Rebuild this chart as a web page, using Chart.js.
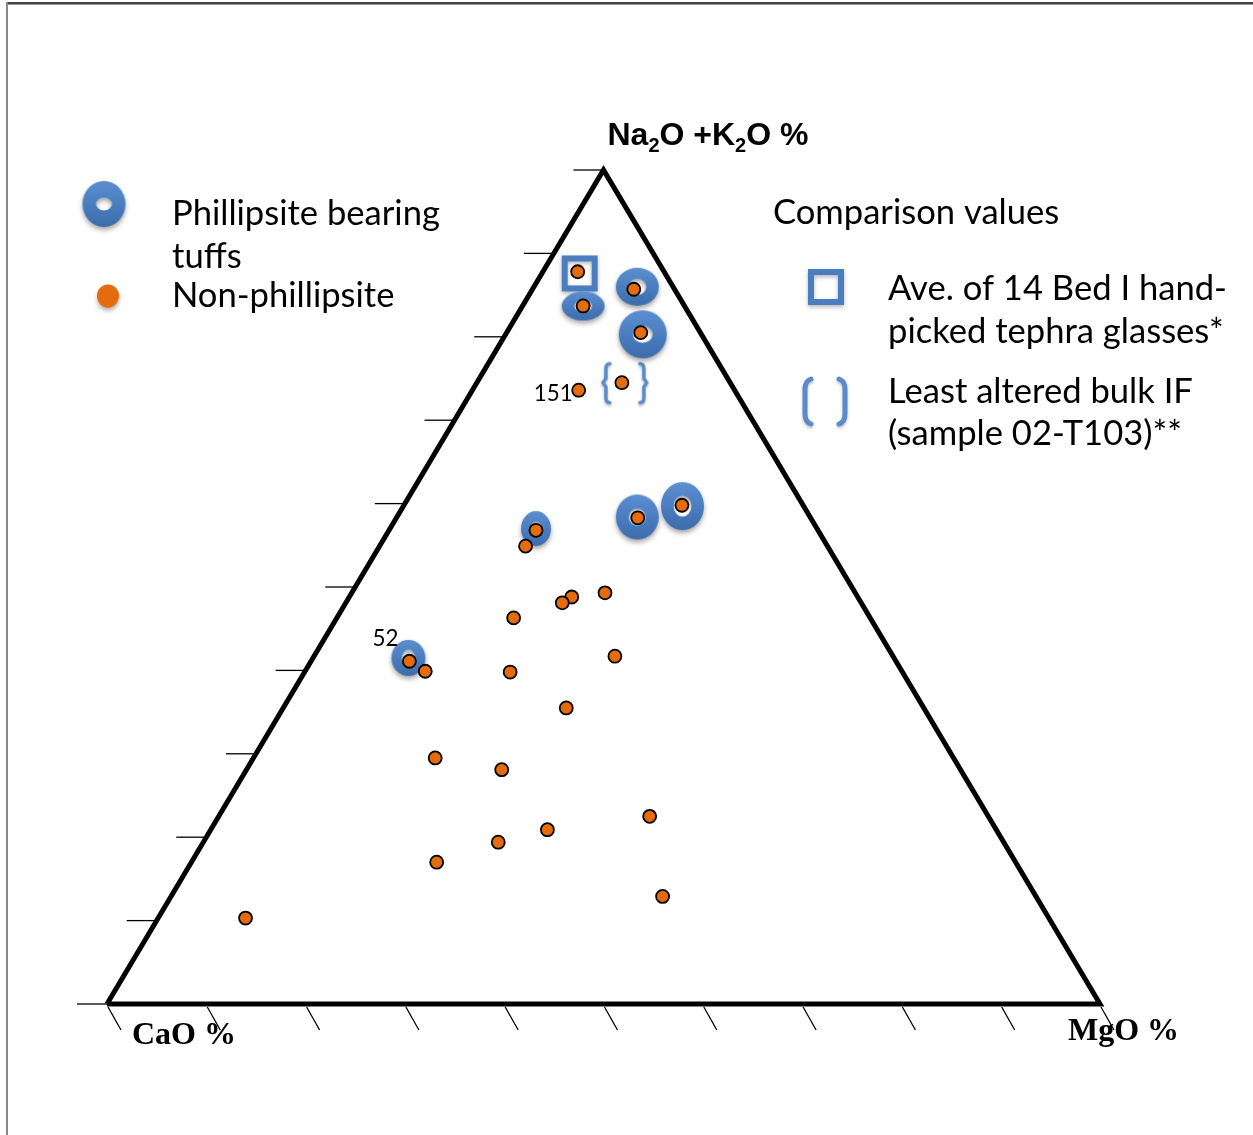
<!DOCTYPE html>
<html>
<head>
<meta charset="utf-8">
<script src="https://cdn.jsdelivr.net/npm/chart.js@4.4.0/dist/chart.umd.min.js"></script>
<style>
  html, body { margin: 0; padding: 0; background: #fff; }
  canvas { display: block; }
</style>
</head>
<body>
<canvas id="ternary" width="1253" height="1135"></canvas>
<script>
// values, in % (CaO is what is left: 100 - NaK - MgO)
const nonPhilNaK = [87.8, 85.7, 83.7, 80.5, 73.6, 74.5, 56.8, 54.9, 58.3, 59.8, 48.8, 48.1, 49.3, 46.3,
  41.1, 39.9, 39.8, 41.7, 35.5, 29.5, 28.1, 22.5, 20.9, 19.4, 17.0, 12.9, 10.3];
const nonPhilMgO = [3.5, 10.2, 6.1, 13.5, 10.7, 14.6, 14.8, 14.7, 24.3, 28.0, 22.4, 21.8, 25.5, 17.8,
  9.9, 12.1, 20.7, 30.3, 28.5, 18.3, 25.7, 43.4, 33.9, 29.7, 24.7, 49.5, 8.8];
const philNaK = [86.0, 83.7, 80.3, 57.0, 58.4, 59.7, 41.5];
const philMgO = [10.4, 6.1, 13.8, 14.7, 24.2, 28.1, 9.6];
const glassNaK = [87.6];
const glassMgO = [3.8];
const bulkNaK = [74.5];
const bulkMgO = [14.8];
const tickValues = [0, 10, 20, 30, 40, 50, 60, 70, 80, 90, 100];
const labelIndex = [4, 14];
const labelText = ["151", "52"];

// ring sizes (outer w, h, hole w, h) - picture styling only
const ringShapes = [[43, 38, 18, 16], [43, 29, 18, 12], [48, 48, 20, 17], [30, 35, 12, 14],
  [43, 45, 17, 17], [43, 48, 18, 21], [34, 36, 13, 17]];
const labelOffsets = [[-6, 11], [-11, -15]];

function toXY(naK, mgO) {
  return { x: mgO + naK / 2, y: naK };
}

const nonPhil = nonPhilNaK.map((v, i) => toXY(v, nonPhilMgO[i]));
const phil = philNaK.map((v, i) => toXY(v, philMgO[i]));
const glass = glassNaK.map((v, i) => toXY(v, glassMgO[i]));
const bulk = bulkNaK.map((v, i) => toXY(v, bulkMgO[i]));
const frame = [toXY(0, 0), toXY(0, 100), toXY(100, 0), toXY(0, 0)];

function ringImage(w, h, hw, hh) {
  const pad = 12;
  const c = document.createElement("canvas");
  c.width = w + pad * 2;
  c.height = h + pad * 2;
  const g = c.getContext("2d");
  const cx = c.width / 2, cy = c.height / 2;
  g.save();
  g.shadowColor = "rgba(0,0,0,0.35)";
  g.shadowBlur = 5;
  g.shadowOffsetY = 3;
  const grad = g.createLinearGradient(0, cy - h / 2, 0, cy + h / 2);
  grad.addColorStop(0, "#5B8FD2");
  grad.addColorStop(0.5, "#4A7EC1");
  grad.addColorStop(1, "#3D6CAA");
  g.fillStyle = grad;
  g.beginPath();
  g.ellipse(cx, cy, w / 2, h / 2, 0, 0, Math.PI * 2);
  g.ellipse(cx, cy, hw / 2, hh / 2, 0, 0, Math.PI * 2);
  g.fill("evenodd");
  g.restore();
  return c;
}

function squareImage(s, lw) {
  const pad = 10;
  const c = document.createElement("canvas");
  c.width = s + pad * 2;
  c.height = s + pad * 2;
  const g = c.getContext("2d");
  g.shadowColor = "rgba(0,0,0,0.3)";
  g.shadowBlur = 4;
  g.shadowOffsetY = 2;
  g.strokeStyle = "#4A7EC1";
  g.lineWidth = lw;
  g.strokeRect(pad + lw / 2, pad + lw / 2, s - lw, s - lw);
  return c;
}

function braceImage() {
  const c = document.createElement("canvas");
  c.width = 64;
  c.height = 60;
  const g = c.getContext("2d");
  const cx = 32, cy = 30, top = cy - 19, bot = cy + 20, mid = cy;
  g.shadowColor = "rgba(0,0,0,0.25)";
  g.shadowBlur = 3;
  g.shadowOffsetY = 2;
  g.strokeStyle = "#5A8BCB";
  g.lineWidth = 3.5;
  g.lineCap = "round";
  g.lineJoin = "round";
  let lx = cx - 18;
  g.beginPath();
  g.moveTo(lx + 4, top);
  g.quadraticCurveTo(lx, top, lx, top + 5);
  g.lineTo(lx, mid - 4);
  g.lineTo(lx - 3, mid);
  g.lineTo(lx, mid + 4);
  g.lineTo(lx, bot - 5);
  g.quadraticCurveTo(lx, bot, lx + 4, bot);
  g.stroke();
  let rx = cx + 20;
  g.beginPath();
  g.moveTo(rx - 4, top);
  g.quadraticCurveTo(rx, top, rx, top + 5);
  g.lineTo(rx, mid - 4);
  g.lineTo(rx + 3, mid);
  g.lineTo(rx, mid + 4);
  g.lineTo(rx, bot - 5);
  g.quadraticCurveTo(rx, bot, rx - 4, bot);
  g.stroke();
  return c;
}

function bracketPair(g, x, top, bot, gap) {
  g.save();
  g.shadowColor = "rgba(0,0,0,0.25)";
  g.shadowBlur = 3;
  g.shadowOffsetY = 2;
  g.strokeStyle = "#5A8BCB";
  g.lineWidth = 5;
  g.lineCap = "round";
  g.beginPath();
  g.moveTo(x + 6, top);
  g.quadraticCurveTo(x, top + 2, x, top + 10);
  g.lineTo(x, bot - 10);
  g.quadraticCurveTo(x, bot - 2, x + 6, bot);
  g.stroke();
  const r = x + gap;
  g.beginPath();
  g.moveTo(r - 6, top);
  g.quadraticCurveTo(r, top + 2, r, top + 10);
  g.lineTo(r, bot - 10);
  g.quadraticCurveTo(r, bot - 2, r - 6, bot);
  g.stroke();
  g.restore();
}

const ringImgs = ringShapes.map((s) => ringImage(s[0], s[1], s[2], s[3]));
const legendRing = ringImage(43, 46, 16, 13);
const squareImg = squareImage(36, 6);
const legendSquare = squareImage(36, 6);
const braceImg = braceImage();

const decorations = {
  id: "decorations",
  beforeDatasetsDraw(chart) {
    const g = chart.ctx;
    const xs = chart.scales.x, ys = chart.scales.y;
    g.save();
    // page frame
    g.fillStyle = "#444";
    g.fillRect(7, 2, 1246, 2);
    g.fillStyle = "#999";
    g.fillRect(7, 4, 1246, 1);
    g.fillStyle = "#888";
    g.fillRect(6, 2, 2, 1133);
    // ticks
    g.strokeStyle = "#000";
    g.lineWidth = 1.3;
    tickValues.forEach((t) => {
      const p = toXY(t, 0);
      const px = xs.getPixelForValue(p.x), py = ys.getPixelForValue(p.y);
      g.beginPath();
      g.moveTo(px - 30, py);
      g.lineTo(px, py);
      g.stroke();
      const b = toXY(0, t);
      const bx = xs.getPixelForValue(b.x), by = ys.getPixelForValue(b.y);
      g.beginPath();
      g.moveTo(bx + 1, by + 3);
      g.lineTo(bx + 14, by + 26);
      g.stroke();
    });
    g.restore();
  },
  afterDatasetsDraw(chart) {
    const g = chart.ctx;
    const xs = chart.scales.x, ys = chart.scales.y;
    g.save();
    g.fillStyle = "#000";
    g.textBaseline = "alphabetic";

    // Calibri-like text: fit Lato to the picture widths
    g.font = "37px Lato";
    const k = 268 / g.measureText("Phillipsite bearing").width;
    const big = (37 * k).toFixed(1) + "px Lato";
    const small = (24 * k).toFixed(1) + "px Lato";

    // point labels
    g.font = small;
    g.textAlign = "right";
    labelIndex.forEach((idx, i) => {
      const p = nonPhil[idx];
      g.fillText(labelText[i], xs.getPixelForValue(p.x) + labelOffsets[i][0],
        ys.getPixelForValue(p.y) + labelOffsets[i][1]);
    });
    g.textAlign = "left";

    // apex title
    const top = toXY(100, 0);
    let tx = xs.getPixelForValue(top.x) + 4;
    const ty = ys.getPixelForValue(top.y) - 25;
    const parts = [["Na", 0], ["2", 1], ["O +K", 0], ["2", 1], ["O %", 0]];
    parts.forEach(([s, sub]) => {
      g.font = sub ? "bold 20px 'Liberation Sans'" : "bold 32px 'Liberation Sans'";
      g.fillText(s, tx, ty + (sub ? 7 : 0));
      tx += g.measureText(s).width;
    });

    // base corner titles
    g.font = "bold 32px 'Liberation Serif'";
    const left = toXY(0, 0), right = toXY(0, 100);
    g.fillText("CaO %", xs.getPixelForValue(left.x) + 25, ys.getPixelForValue(left.y) + 40);
    g.fillText("MgO %", xs.getPixelForValue(right.x) - 32, ys.getPixelForValue(right.y) + 36);

    // legend, left
    g.drawImage(legendRing, 104 - legendRing.width / 2, 204 - legendRing.height / 2);
    g.save();
    g.shadowColor = "rgba(0,0,0,0.3)";
    g.shadowBlur = 4;
    g.shadowOffsetY = 3;
    g.fillStyle = "#E46C0A";
    g.beginPath();
    g.ellipse(108, 296, 11, 11.5, 0, 0, Math.PI * 2);
    g.fill();
    g.restore();
    g.font = big;
    g.fillText("Phillipsite bearing", 172, 225);
    g.fillText("tuffs", 172, 268);
    g.fillText("Non-phillipsite", 172, 307);

    // legend, right
    g.fillText("Comparison values", 773, 224);
    g.drawImage(legendSquare, 826 - legendSquare.width / 2, 287 - legendSquare.height / 2);
    g.fillText("Ave. of 14 Bed I hand-", 888, 300);
    g.fillText("picked tephra glasses*", 888, 343);
    bracketPair(g, 805, 379, 424, 40);
    g.fillText("Least altered bulk IF", 888, 403);
    g.fillText("(sample 02-T103)**", 888, 445);
    g.restore();
  }
};

new Chart(document.getElementById("ternary"), {
  type: "scatter",
  data: {
    datasets: [
      {
        label: "Non-phillipsite",
        data: nonPhil,
        pointRadius: 6.5,
        borderWidth: 1.8,
        borderColor: "#000",
        backgroundColor: "#E46C0A",
        clip: false,
        order: 0
      },
      {
        label: "Phillipsite bearing tuffs",
        data: phil,
        pointStyle: (ctx) => ringImgs[ctx.dataIndex],
        clip: false,
        order: 1
      },
      {
        label: "Ave. of 14 Bed I hand-picked tephra glasses*",
        data: glass,
        pointStyle: squareImg,
        clip: false,
        order: 2
      },
      {
        label: "Least altered bulk IF (sample 02-T103)**",
        data: bulk,
        pointStyle: braceImg,
        clip: false,
        order: 3
      },
      {
        label: "frame",
        data: frame,
        showLine: true,
        borderColor: "#000",
        borderWidth: 5,
        borderJoinStyle: "miter",
        pointRadius: 0,
        clip: false,
        order: 4
      }
    ]
  },
  options: {
    responsive: false,
    animation: false,
    events: [],
    layout: { padding: { left: 107, right: 153, top: 170, bottom: 131 } },
    scales: {
      x: { display: false, min: 0, max: 100 },
      y: { display: false, min: 0, max: 100 }
    },
    plugins: {
      legend: { display: false },
      tooltip: { enabled: false }
    }
  },
  plugins: [decorations]
});
</script>
</body>
</html>
